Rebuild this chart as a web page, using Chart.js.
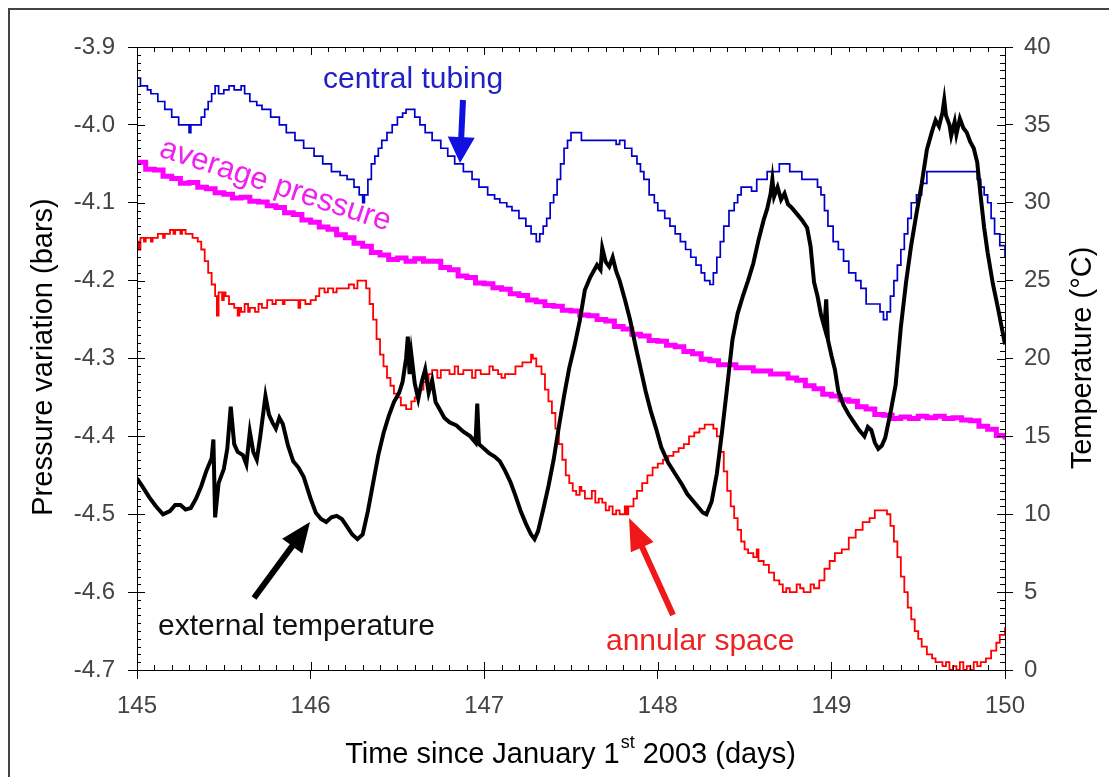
<!DOCTYPE html>
<html>
<head>
<meta charset="utf-8">
<title>Pressure variation and temperature</title>
<script src="https://cdn.jsdelivr.net/npm/chart.js@4.4.0/dist/chart.umd.min.js"></script>
<style>
  body { margin: 0; background: #fff; }
  #wrap { position: relative; width: 1109px; height: 777px; }
</style>
</head>
<body>
<div id="wrap"><canvas id="myChart" width="1109" height="777"></canvas></div>
<script>
/**
 * DATA
 */
// central tubing, pressure (bars), stepped
const tubeDays = [145.00,145.02,145.06,145.08,145.12,145.16,145.20,145.24,145.30,145.31,
  145.37,145.39,145.41,145.43,145.45,145.47,145.50,145.53,145.56,145.60,
  145.62,145.65,145.69,145.72,145.77,145.82,145.86,145.91,145.96,146.02,
  146.07,146.12,146.17,146.21,146.25,146.28,146.30,146.31,146.33,146.35,
  146.37,146.39,146.41,146.44,146.47,146.50,146.53,146.55,146.60,146.63,
  146.66,146.70,146.75,146.79,146.83,146.88,146.93,146.97,147.02,147.06,
  147.09,147.13,147.16,147.20,147.24,147.27,147.30,147.32,147.34,147.36,
  147.38,147.40,147.42,147.44,147.46,147.48,147.50,147.56,147.76,147.78,
  147.81,147.85,147.88,147.90,147.92,147.95,147.98,148.00,148.04,148.07,
  148.10,148.13,148.16,148.19,148.22,148.25,148.27,148.30,148.32,148.34,
  148.36,148.38,148.41,148.44,148.46,148.48,148.54,148.57,148.63,148.70,
  148.76,148.83,148.92,148.94,148.96,148.98,149.01,149.04,149.07,149.10,
  149.14,149.17,149.20,149.28,149.30,149.32,149.34,149.36,149.38,149.40,
  149.42,149.44,149.46,149.49,149.52,149.55,149.84,149.86,149.88,149.90,
  149.92,149.94,149.97,150.00]
const tubeVals = [-3.94,-3.95,-3.955,-3.96,-3.97,-3.98,-3.99,-4.00,-4.01,-4.00,
  -3.99,-3.98,-3.97,-3.96,-3.95,-3.96,-3.955,-3.95,-3.955,-3.95,
  -3.96,-3.97,-3.975,-3.98,-3.99,-4.00,-4.01,-4.02,-4.03,-4.04,
  -4.05,-4.06,-4.065,-4.07,-4.08,-4.09,-4.10,-4.09,-4.07,-4.05,
  -4.04,-4.03,-4.02,-4.01,-4.00,-3.99,-3.985,-3.98,-3.99,-4.00,
  -4.01,-4.02,-4.03,-4.04,-4.05,-4.06,-4.07,-4.08,-4.09,-4.095,
  -4.10,-4.105,-4.11,-4.12,-4.13,-4.14,-4.15,-4.14,-4.13,-4.12,
  -4.10,-4.09,-4.07,-4.05,-4.03,-4.02,-4.01,-4.02,-4.025,-4.02,
  -4.03,-4.04,-4.05,-4.06,-4.07,-4.09,-4.10,-4.11,-4.12,-4.13,
  -4.14,-4.15,-4.16,-4.17,-4.18,-4.19,-4.20,-4.205,-4.19,-4.17,
  -4.15,-4.13,-4.11,-4.10,-4.09,-4.08,-4.085,-4.07,-4.06,-4.05,
  -4.06,-4.07,-4.08,-4.09,-4.11,-4.13,-4.15,-4.16,-4.175,-4.19,
  -4.20,-4.21,-4.23,-4.24,-4.25,-4.24,-4.22,-4.20,-4.18,-4.16,
  -4.14,-4.12,-4.10,-4.09,-4.075,-4.06,-4.07,-4.08,-4.09,-4.10,
  -4.12,-4.14,-4.155,-4.17]

// average pressure (bars)
const avgDays = [145.00,145.05,145.10,145.15,145.20,145.25,145.30,145.35,145.40,145.45,
  145.50,145.55,145.60,145.65,145.70,145.75,145.80,145.85,145.90,145.95,
  146.00,146.05,146.10,146.15,146.20,146.25,146.30,146.35,146.40,146.45,
  146.50,146.55,146.60,146.65,146.70,146.75,146.80,146.85,146.90,146.95,
  147.00,147.05,147.10,147.15,147.20,147.25,147.30,147.35,147.40,147.45,
  147.50,147.55,147.60,147.65,147.70,147.75,147.80,147.85,147.90,147.95,
  148.00,148.05,148.10,148.15,148.20,148.25,148.30,148.35,148.40,148.45,
  148.50,148.55,148.60,148.65,148.70,148.75,148.80,148.85,148.90,148.95,
  149.00,149.05,149.10,149.15,149.20,149.25,149.30,149.35,149.40,149.45,
  149.50,149.55,149.60,149.65,149.70,149.75,149.80,149.85,149.90,149.95,
  150.00]
const avgVals = [-4.048,-4.057,-4.058,-4.066,-4.069,-4.075,-4.074,-4.080,-4.082,-4.087,
  -4.089,-4.094,-4.093,-4.098,-4.099,-4.104,-4.106,-4.113,-4.115,-4.122,
  -4.125,-4.131,-4.134,-4.141,-4.145,-4.152,-4.156,-4.164,-4.167,-4.173,
  -4.171,-4.175,-4.172,-4.175,-4.175,-4.183,-4.186,-4.194,-4.196,-4.203,
  -4.204,-4.209,-4.211,-4.217,-4.219,-4.225,-4.227,-4.232,-4.233,-4.238,
  -4.239,-4.244,-4.245,-4.250,-4.252,-4.259,-4.262,-4.269,-4.271,-4.277,
  -4.278,-4.283,-4.285,-4.291,-4.294,-4.301,-4.303,-4.308,-4.308,-4.312,
  -4.312,-4.316,-4.316,-4.320,-4.320,-4.325,-4.328,-4.335,-4.339,-4.346,
  -4.348,-4.353,-4.355,-4.362,-4.365,-4.372,-4.373,-4.377,-4.375,-4.377,
  -4.374,-4.376,-4.374,-4.377,-4.376,-4.379,-4.380,-4.387,-4.391,-4.399,
  -4.404]

// annular space, pressure (bars), stepped
const annDays = [145.00,145.01,145.02,145.04,145.05,145.08,145.09,145.12,145.15,145.16,
  145.19,145.21,145.22,145.25,145.26,145.28,145.32,145.35,145.37,145.39,
  145.41,145.43,145.45,145.46,145.47,145.49,145.50,145.51,145.53,145.56,
  145.58,145.59,145.60,145.62,145.64,145.65,145.68,145.70,145.72,145.75,
  145.78,145.80,145.84,145.85,145.90,145.93,145.94,145.97,146.00,146.03,
  146.05,146.08,146.10,146.13,146.15,146.22,146.25,146.27,146.32,146.34,
  146.36,146.38,146.40,146.42,146.44,146.46,146.48,146.50,146.52,146.55,
  146.58,146.60,146.62,146.65,146.68,146.70,146.73,146.75,146.80,146.83,
  146.85,146.88,146.93,146.95,146.98,147.03,147.05,147.08,147.10,147.12,
  147.18,147.22,147.27,147.28,147.30,147.33,147.35,147.37,147.39,147.41,
  147.43,147.45,147.47,147.49,147.51,147.53,147.55,147.56,147.58,147.62,
  147.64,147.66,147.68,147.70,147.72,147.74,147.76,147.78,147.81,147.82,
  147.83,147.86,147.88,147.91,147.94,147.97,148.00,148.03,148.06,148.09,
  148.12,148.15,148.18,148.21,148.24,148.27,148.32,148.34,148.36,148.38,
  148.40,148.42,148.44,148.46,148.48,148.50,148.52,148.55,148.57,148.58,
  148.61,148.64,148.67,148.70,148.72,148.74,148.76,148.80,148.82,148.84,
  148.88,148.90,148.93,148.96,148.99,149.02,149.06,149.10,149.14,149.18,
  149.22,149.25,149.32,149.34,149.36,149.38,149.40,149.42,149.44,149.46,
  149.48,149.50,149.52,149.55,149.58,149.60,149.64,149.66,149.68,149.70,
  149.72,149.74,149.76,149.78,149.80,149.82,149.84,149.86,149.89,149.92,
  149.95,149.97,150.00]
const annVals = [-4.15,-4.16,-4.145,-4.15,-4.145,-4.15,-4.145,-4.14,-4.145,-4.14,
  -4.135,-4.14,-4.135,-4.14,-4.135,-4.14,-4.145,-4.15,-4.16,-4.175,
  -4.19,-4.205,-4.22,-4.245,-4.215,-4.225,-4.215,-4.22,-4.23,-4.235,
  -4.245,-4.235,-4.24,-4.23,-4.24,-4.235,-4.24,-4.23,-4.235,-4.225,
  -4.23,-4.225,-4.23,-4.225,-4.225,-4.235,-4.225,-4.23,-4.225,-4.22,
  -4.21,-4.215,-4.21,-4.215,-4.21,-4.205,-4.21,-4.20,-4.21,-4.23,
  -4.25,-4.275,-4.295,-4.31,-4.325,-4.335,-4.345,-4.35,-4.36,-4.365,
  -4.355,-4.35,-4.34,-4.33,-4.32,-4.315,-4.325,-4.315,-4.32,-4.31,
  -4.32,-4.315,-4.325,-4.315,-4.32,-4.31,-4.315,-4.32,-4.325,-4.32,
  -4.31,-4.305,-4.295,-4.30,-4.31,-4.32,-4.34,-4.355,-4.37,-4.39,
  -4.41,-4.43,-4.45,-4.46,-4.47,-4.475,-4.465,-4.47,-4.48,-4.47,
  -4.485,-4.48,-4.485,-4.495,-4.49,-4.50,-4.495,-4.50,-4.49,-4.50,
  -4.49,-4.48,-4.47,-4.46,-4.45,-4.44,-4.435,-4.43,-4.425,-4.42,
  -4.415,-4.41,-4.40,-4.395,-4.39,-4.385,-4.39,-4.40,-4.42,-4.445,
  -4.47,-4.49,-4.505,-4.52,-4.535,-4.545,-4.55,-4.555,-4.545,-4.56,
  -4.565,-4.575,-4.585,-4.59,-4.60,-4.595,-4.60,-4.59,-4.595,-4.60,
  -4.59,-4.595,-4.585,-4.57,-4.56,-4.55,-4.545,-4.53,-4.52,-4.51,
  -4.505,-4.495,-4.50,-4.515,-4.535,-4.555,-4.58,-4.60,-4.62,-4.635,
  -4.65,-4.66,-4.67,-4.68,-4.685,-4.69,-4.695,-4.69,-4.70,-4.695,
  -4.70,-4.69,-4.70,-4.695,-4.70,-4.69,-4.695,-4.69,-4.685,-4.675,
  -4.665,-4.655,-4.645]

// external temperature (°C)
const tempDays = [145.00,145.03,145.07,145.11,145.15,145.19,145.22,145.25,145.28,145.31,
  145.34,145.37,145.40,145.43,145.44,145.45,145.47,145.50,145.52,145.54,
  145.56,145.58,145.61,145.63,145.65,145.67,145.69,145.71,145.74,145.76,
  145.78,145.80,145.82,145.84,145.87,145.90,145.93,145.96,146.00,146.03,
  146.06,146.09,146.12,146.15,146.18,146.21,146.24,146.27,146.30,146.33,
  146.36,146.39,146.42,146.45,146.48,146.51,146.53,146.55,146.56,146.57,
  146.58,146.60,146.62,146.64,146.66,146.68,146.70,146.72,146.74,146.77,
  146.80,146.84,146.88,146.92,146.95,146.96,146.97,147.00,147.03,147.06,
  147.09,147.12,147.15,147.18,147.21,147.24,147.27,147.29,147.31,147.34,
  147.37,147.40,147.43,147.46,147.49,147.52,147.55,147.58,147.61,147.63,
  147.65,147.67,147.68,147.70,147.72,147.74,147.76,147.78,147.81,147.84,
  147.87,147.90,147.93,147.96,147.99,148.02,148.06,148.10,148.14,148.17,
  148.20,148.23,148.26,148.28,148.31,148.34,148.37,148.40,148.43,148.46,
  148.49,148.52,148.55,148.58,148.61,148.63,148.65,148.66,148.67,148.69,
  148.71,148.73,148.75,148.77,148.80,148.83,148.86,148.88,148.90,148.92,
  148.94,148.96,148.97,148.98,149.00,149.02,149.04,149.07,149.10,149.13,
  149.16,149.19,149.21,149.23,149.25,149.27,149.29,149.31,149.34,149.37,
  149.40,149.43,149.46,149.49,149.52,149.55,149.58,149.60,149.62,149.64,
  149.65,149.66,149.68,149.69,149.71,149.72,149.74,149.76,149.78,149.80,
  149.82,149.84,149.86,149.88,149.90,149.93,149.96,150.00]
const tempVals = [12.3,11.8,11.1,10.5,10.0,10.2,10.6,10.6,10.3,10.4,
  11.0,11.8,12.8,13.6,14.8,9.8,12.0,12.9,14.2,16.9,
  14.5,14.0,13.8,13.2,15.3,14.0,13.5,15.0,17.6,16.4,
  15.9,15.5,16.2,15.8,14.4,13.4,13.0,12.4,11.0,10.1,
  9.7,9.5,9.8,9.9,9.7,9.2,8.7,8.4,8.7,10.2,
  12.0,13.8,15.2,16.3,17.2,17.8,18.5,20.0,21.4,19.0,
  20.3,18.4,17.4,18.5,19.3,17.8,18.6,17.2,16.8,16.2,
  15.9,15.7,15.3,15.0,14.6,17.1,14.5,14.2,13.9,13.7,
  13.4,12.8,12.1,11.2,10.2,9.4,8.7,8.4,8.9,10.3,
  11.8,13.5,15.6,17.6,19.4,20.8,22.4,24.4,25.2,25.6,
  26.0,25.7,27.1,26.2,25.9,26.5,25.6,25.0,23.8,22.5,
  20.9,19.4,17.9,16.6,15.5,14.3,13.3,12.6,11.9,11.3,
  10.9,10.5,10.1,10.0,10.8,12.6,15.3,18.2,21.2,22.9,
  24.0,25.0,26.1,27.6,28.9,29.6,30.6,31.5,30.4,31.0,
  30.2,30.6,29.9,29.7,29.3,28.9,28.4,27.2,24.9,24.0,
  22.8,22.0,23.8,21.2,20.2,19.3,17.9,17.0,16.4,15.9,
  15.4,15.0,15.6,15.4,14.6,14.2,14.4,14.9,16.5,18.3,
  22.0,24.9,27.3,29.3,31.2,33.4,34.6,35.3,34.9,35.8,
  36.6,35.6,35.0,34.3,35.2,34.4,35.4,34.8,34.5,33.9,
  33.5,32.6,30.4,28.4,26.8,24.8,23.2,20.9]

const dayTicks = [145, 146, 147, 148, 149, 150]

let toPoints = (xs, ys) => xs.map((d, i) => ({x: d, y: ys[i]}))

const FONT = "'Liberation Sans', Arial, sans-serif"

/**
 * DRAWING HELPERS
 */
let drawArrow = (ctx, x1, y1, x2, y2, color, w, headLen, headW) => {
    const ang = Math.atan2(y2 - y1, x2 - x1)
    const len = Math.hypot(x2 - x1, y2 - y1)
    ctx.save()
    ctx.translate(x2, y2)
    ctx.rotate(ang)
    ctx.fillStyle = color
    ctx.beginPath()
    ctx.moveTo(0, 0)
    ctx.lineTo(-headLen, headW / 2)
    ctx.lineTo(-headLen, w / 2)
    ctx.lineTo(-len, w / 2)
    ctx.lineTo(-len, -w / 2)
    ctx.lineTo(-headLen, -w / 2)
    ctx.lineTo(-headLen, -headW / 2)
    ctx.closePath()
    ctx.fill()
    ctx.restore()
}

// box, inner ticks, titles and labels
const decorations = {
    id: 'decorations',
    afterDraw(chart) {
        const {ctx, chartArea: a, scales} = chart
        const sx = scales.x, sy = scales.y, st = scales.y2
        ctx.save()

        // outer frame
        ctx.strokeStyle = '#444'
        ctx.lineWidth = 2
        ctx.beginPath()
        ctx.moveTo(9, 777)
        ctx.lineTo(9, 9)
        ctx.lineTo(1109, 9)
        ctx.stroke()

        // plot box
        ctx.strokeStyle = '#000'
        ctx.lineWidth = 1
        ctx.strokeRect(a.left + 0.5, a.top + 0.5, a.width, a.height)

        ctx.beginPath()
        // x ticks, bottom and top, every 0.1 day
        for (let k = 0; k <= 50; k++) {
            const px = Math.round(sx.getPixelForValue(145 + k / 10)) + 0.5
            const len = k % 10 === 0 ? 8 : 5
            ctx.moveTo(px, a.bottom); ctx.lineTo(px, a.bottom - len)
            ctx.moveTo(px, a.top); ctx.lineTo(px, a.top + len)
        }
        // pressure ticks every 0.01 bar
        for (let k = 0; k <= 80; k++) {
            const py = Math.round(sy.getPixelForValue(-3.9 - k / 100)) + 0.5
            const len = k % 10 === 0 ? 8 : 4
            ctx.moveTo(a.left, py); ctx.lineTo(a.left + len, py)
        }
        // temperature ticks every 0.5 °C
        for (let k = 0; k <= 80; k++) {
            const py = Math.round(st.getPixelForValue(k / 2)) + 0.5
            const len = k % 10 === 0 ? 8 : 5
            ctx.moveTo(a.right, py); ctx.lineTo(a.right - len, py)
        }
        ctx.stroke()

        // axis titles
        ctx.fillStyle = '#000'
        ctx.font = '29px ' + FONT
        ctx.textAlign = 'center'
        ctx.textBaseline = 'middle'
        ctx.save()
        ctx.translate(44, 357)
        ctx.rotate(-Math.PI / 2)
        ctx.fillText('Pressure variation (bars)', 0, 0)
        ctx.restore()
        ctx.save()
        ctx.translate(1083, 358)
        ctx.rotate(-Math.PI / 2)
        ctx.fillText('Temperature (°C)', 0, 0)
        ctx.restore()

        // bottom title with superscript
        ctx.textAlign = 'left'
        ctx.textBaseline = 'alphabetic'
        const partA = 'Time since January 1'
        const partB = 'st'
        const partC = ' 2003 (days)'
        ctx.font = '29px ' + FONT
        const wA = ctx.measureText(partA).width
        const wC = ctx.measureText(partC).width
        ctx.font = '18px ' + FONT
        const wB = ctx.measureText(partB).width
        let tx = 570 - (wA + wB + wC) / 2
        ctx.font = '29px ' + FONT
        ctx.fillText(partA, tx, 763)
        ctx.font = '18px ' + FONT
        ctx.fillText(partB, tx + wA + 1, 748)
        ctx.font = '29px ' + FONT
        ctx.fillText(partC, tx + wA + wB + 1, 763)

        // annotations
        ctx.font = '30px ' + FONT
        ctx.fillStyle = '#2020c8'
        ctx.fillText('central tubing', 323, 88)
        ctx.fillStyle = '#111'
        ctx.fillText('external temperature', 158, 635)
        ctx.fillStyle = '#ee2222'
        ctx.fillText('annular space', 606, 650)
        ctx.save()
        ctx.translate(158, 156)
        ctx.rotate(18.1 * Math.PI / 180)
        ctx.font = '31px ' + FONT
        ctx.fillStyle = '#f020f0'
        ctx.fillText('average pressure', 0, 0)
        ctx.restore()

        drawArrow(ctx, 463, 100, 460, 163, '#1010e0', 6, 26, 27)
        drawArrow(ctx, 254, 598, 310, 522, '#000', 6, 30, 25)
        drawArrow(ctx, 673, 615, 629, 518, '#f01818', 6, 32, 25)

        ctx.restore()
    }
}

/**
 * CHART
 */
const tickFont = {family: FONT, size: 24}

const data = {
    datasets: [
        {
            label: 'external temperature',
            data: toPoints(tempDays, tempVals),
            yAxisID: 'y2',
            borderColor: '#000',
            borderWidth: 4,
            pointRadius: 0
        },
        {
            label: 'annular space',
            data: toPoints(annDays, annVals),
            yAxisID: 'y',
            borderColor: '#ff0000',
            borderWidth: 1.8,
            stepped: true,
            pointRadius: 0
        },
        {
            label: 'average pressure',
            data: toPoints(avgDays, avgVals),
            yAxisID: 'y',
            borderColor: '#ff00ff',
            borderWidth: 5,
            stepped: true,
            pointRadius: 0
        },
        {
            label: 'central tubing',
            data: toPoints(tubeDays, tubeVals),
            yAxisID: 'y',
            borderColor: '#0000cc',
            borderWidth: 1.7,
            stepped: true,
            pointRadius: 0
        }
    ]
}

const config = {
    type: 'line',
    data: data,
    plugins: [decorations],
    options: {
        responsive: false,
        devicePixelRatio: 1,
        animation: false,
        layout: {padding: {top: 47, left: 0, right: 0, bottom: 0}},
        plugins: {legend: {display: false}, tooltip: {enabled: false}},
        scales: {
            x: {
                type: 'linear',
                min: 145,
                max: 150,
                afterBuildTicks: (scale) => { scale.ticks = dayTicks.map(v => ({value: v})) },
                afterFit: (scale) => { scale.height = 107 },
                ticks: {font: tickFont, color: '#444', padding: 13},
                grid: {drawOnChartArea: false, drawTicks: true, tickLength: 9, tickColor: '#000'},
                border: {display: true, color: '#000'}
            },
            y: {
                position: 'left',
                min: -4.7,
                max: -3.9,
                afterFit: (scale) => { scale.width = 137 },
                ticks: {stepSize: 0.1, font: tickFont, color: '#444', padding: 13,
                    callback: (v) => v.toFixed(1)},
                grid: {drawOnChartArea: false, drawTicks: true, tickLength: 9, tickColor: '#000'},
                border: {display: true, color: '#000'}
            },
            y2: {
                position: 'right',
                min: 0,
                max: 40,
                afterFit: (scale) => { scale.width = 104 },
                ticks: {stepSize: 5, font: tickFont, color: '#444', padding: 11},
                grid: {drawOnChartArea: false, drawTicks: true, tickLength: 8, tickColor: '#000'},
                border: {display: true, color: '#000'}
            }
        }
    }
}

const myChart = new Chart(document.getElementById('myChart'), config)
</script>
</body>
</html>
